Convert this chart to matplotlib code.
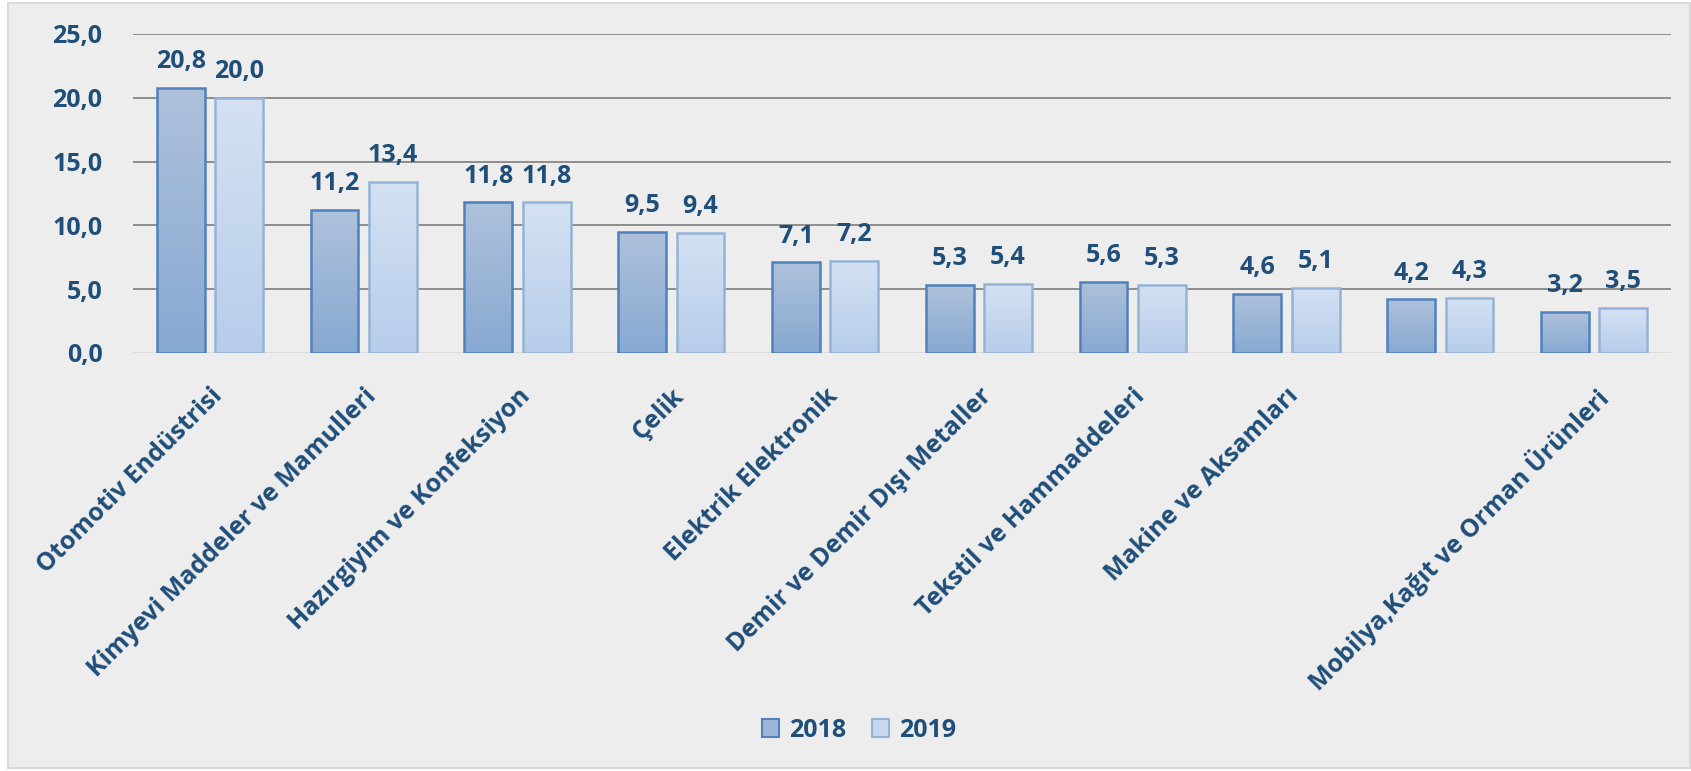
import matplotlib.pyplot as plt
import numpy as np
from matplotlib.patches import Patch, Rectangle
from matplotlib.colors import LinearSegmentedColormap

# Données
categories = ["Otomotiv Endüstrisi", "Kimyevi Maddeler ve Mamulleri", "Hazırgiyim ve Konfeksiyon",
              "Çelik", "Elektrik Elektronik", "Demir ve Demir Dışı Metaller",
              "Tekstil ve Hammaddeleri", "Makine ve Aksamları", "",
              "Mobilya,Kağıt ve Orman Ürünleri"]
# le 9e groupe n'a pas de libellé dans l'original
v2018 = [20.8, 11.2, 11.8, 9.5, 7.1, 5.3, 5.6, 4.6, 4.2, 3.2]
v2019 = [20.0, 13.4, 11.8, 9.4, 7.2, 5.4, 5.3, 5.1, 4.3, 3.5]
yticks = [0, 5, 10, 15, 20, 25]

txt = '#1F4E79'
fs = 18
plt.rcParams['font.family'] = ['Open Sans', 'DejaVu Sans']
plt.rcParams['font.weight'] = 'bold'

fig = plt.figure(figsize=(16.91, 7.71), dpi=100, facecolor='white')
fig.patches.append(Rectangle((8 / 1691, 0.004), 1 - 9 / 1691, 1 - 0.008, transform=fig.transFigure,
                             facecolor='#EDEDED', edgecolor='#D9D9D9', lw=1.5, zorder=-5))
ax = fig.add_axes([133 / 1691, 1 - 353 / 771, (1671 - 133) / 1691, (353 - 34) / 771])
ax.set_facecolor('none')

x = np.arange(len(v2018))
w = 0.31
off = 0.19

cm18 = LinearSegmentedColormap.from_list('c18', ['#88A9D2', '#AEC1DB'])
cm19 = LinearSegmentedColormap.from_list('c19', ['#B7CDEA', '#D4E1F3'])
grad = np.linspace(0, 1, 100).reshape(-1, 1)

b1 = ax.bar(x - off, v2018, w, facecolor='none', edgecolor='#4F81BD', lw=1.8, zorder=3)
b2 = ax.bar(x + off, v2019, w, facecolor='none', edgecolor='#95B3D7', lw=1.8, zorder=3)
for bars, cm in [(b1, cm18), (b2, cm19)]:
    for b in bars:
        x0, h = b.get_x(), b.get_height()
        im = ax.imshow(grad, extent=[x0, x0 + b.get_width(), 0, h], origin='lower',
                       aspect='auto', cmap=cm, zorder=2.5)
        im.set_clip_path(b)

for bars, vals in [(b1, v2018), (b2, v2019)]:
    for b, v in zip(bars, vals):
        ax.annotate(f"{v:.1f}".replace('.', ','), (b.get_x() + b.get_width() / 2, v),
                    xytext=(0, 10), textcoords='offset points', ha='center', va='bottom',
                    fontsize=fs, color=txt, fontweight='bold')

ax.set_xlim(-0.5, len(v2018) - 0.5)
ax.set_ylim(0, 25)
ax.set_yticks(yticks)
ax.set_yticklabels([f"{t:.1f}".replace('.', ',') for t in yticks], fontsize=fs, color=txt,
                   fontweight='bold')
ax.set_xticks(x)
ax.set_xticklabels(categories, rotation=45, ha='right', rotation_mode='anchor', fontsize=fs, color=txt,
                   fontweight='bold')
ax.tick_params(axis='y', length=0, pad=22)
ax.tick_params(axis='x', length=0, pad=22)
for t in yticks[1:]:
    ax.axhline(t, color='#868686', lw=1.3, zorder=1)
ax.axhline(0, color='#D9D9D9', lw=2, zorder=1)
for s in ax.spines.values():
    s.set_visible(False)

handles = [Patch(facecolor='#9DB6D7', edgecolor='#4F81BD', lw=1.5, label='2018'),
           Patch(facecolor='#C6D7EE', edgecolor='#95B3D7', lw=1.5, label='2019')]
leg = fig.legend(handles=handles, loc='center', bbox_to_anchor=(0.508, 0.053), ncol=2, frameon=False,
                 prop={'size': fs, 'weight': 'bold'}, handlelength=0.7, handleheight=0.7,
                 handletextpad=0.4, columnspacing=1.0)
for t in leg.get_texts():
    t.set_color(txt)

fig.savefig('out.png', dpi=100, facecolor=fig.get_facecolor())
